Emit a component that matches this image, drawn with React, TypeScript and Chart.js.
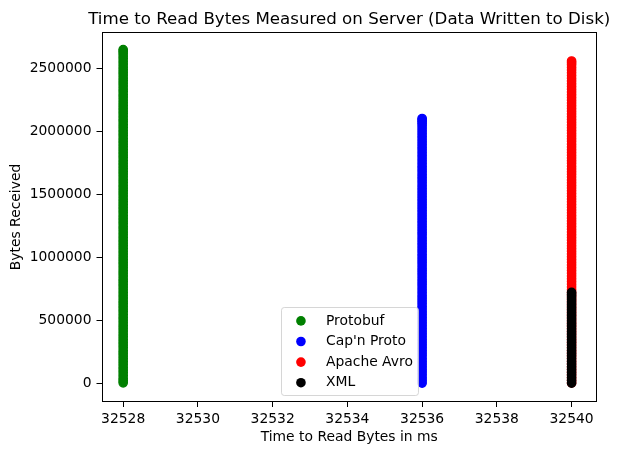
import { useEffect, useRef } from "react";
import { Chart, registerables } from "chart.js";

Chart.register(...registerables);

const chartTitle = "Time to Read Bytes Measured on Server (Data Written to Disk)";
const xAxisTitle = "Time to Read Bytes in ms";
const yAxisTitle = "Bytes Received";

const seriesNames = ["Protobuf", "Cap'n Proto", "Apache Avro", "XML"];
const seriesColors = ["#008000", "#0000ff", "#ff0000", "#000000"];
const readTimesMs = [32528, 32536, 32540, 32540];

const protobufBytes = [
  3100, 19800, 38700, 61200, 84200, 105600, 127900, 151300, 173400, 194900, 216800, 238300,
  259100, 282700, 304600, 326100, 348200, 370400, 391700, 414800, 437900, 458200, 480300, 502600,
  523800, 546900, 569400, 590300, 612700, 633800, 654100, 676900, 698800, 720700, 742600, 765300,
  787100, 808400, 829500, 851600, 873900, 895200, 917400, 940100, 962800, 983600, 1004700,
  1026900, 1048300, 1071400, 1093900, 1114700, 1136200, 1158100, 1179800, 1202600, 1225400,
  1246300, 1268900, 1289800, 1311300, 1334200, 1356700, 1377600, 1399200, 1421300, 1442800,
  1465400, 1487600, 1509700, 1530900, 1552200, 1573400, 1596300, 1618100, 1640800, 1662500,
  1683400, 1704900, 1727600, 1749300, 1771200, 1793800, 1814600, 1836100, 1857900, 1879700,
  1902200, 1924300, 1946100, 1968800, 1989300, 2010600, 2033700, 2055400, 2077800, 2098900,
  2121400, 2143200, 2164600, 2186700, 2207900, 2229100, 2251800, 2274600, 2296200, 2318300,
  2339700, 2361900, 2383800, 2405200, 2427300, 2449800, 2471600, 2492400, 2514200, 2537100,
  2558900, 2580600, 2601200, 2622300, 2638700, 2652400,
];
const capnProtoBytes = [
  1800, 23100, 44600, 66800, 88900, 110200, 131700, 153900, 175200, 197600, 219800, 241300,
  262300, 284700, 306900, 328100, 349400, 371800, 393800, 415200, 437100, 458700, 480600, 503100,
  525300, 546400, 567800, 589900, 611400, 633700, 655900, 677200, 698300, 720600, 742700, 764300,
  786100, 807800, 829600, 851900, 874200, 895300, 916800, 939100, 961300, 982400, 1003900,
  1026300, 1048400, 1069900, 1091800, 1113600, 1135300, 1157400, 1179700, 1200900, 1222400,
  1244800, 1266800, 1288300, 1310100, 1331900, 1353600, 1375800, 1397900, 1419200, 1440700,
  1462600, 1484200, 1506300, 1528600, 1549800, 1571300, 1593700, 1615800, 1637200, 1658400,
  1680800, 1702900, 1724300, 1746100, 1767800, 1789700, 1811600, 1833400, 1855200, 1876800,
  1898700, 1920300, 1942200, 1963900, 1985100, 2006700, 2028300, 2049200, 2066800, 2081500,
  2094300, 2104600,
];
const apacheAvroBytes = [
  2600, 23900, 45300, 67400, 89800, 111300, 132600, 154700, 176400, 198600, 220700, 241800,
  263100, 285600, 307800, 328900, 350200, 372700, 394900, 416100, 437600, 459300, 481400, 503800,
  525900, 547200, 568300, 590700, 612800, 634200, 656100, 677800, 699700, 721900, 743900, 765200,
  786800, 808700, 830400, 852600, 874700, 896300, 918100, 939700, 961600, 983500, 1005200,
  1027400, 1049600, 1070800, 1092300, 1114700, 1136800, 1158500, 1180400, 1202100, 1223700,
  1245900, 1267900, 1289400, 1311200, 1332900, 1354800, 1376400, 1398300, 1420300, 1442100,
  1463700, 1485600, 1507400, 1529400, 1551200, 1572800, 1594400, 1616300, 1638600, 1660700,
  1682100, 1703400, 1725800, 1747900, 1769400, 1791200, 1812800, 1834600, 1856500, 1878300,
  1900700, 1922800, 1944100, 1965400, 1987600, 2009700, 2031300, 2053100, 2074900, 2096800,
  2118400, 2140200, 2161800, 2183600, 2205900, 2227900, 2249500, 2271300, 2293100, 2314800,
  2336600, 2358600, 2380200, 2402100, 2423800, 2445700, 2467400, 2489300, 2510600, 2531800,
  2548200, 2561400,
];
const xmlBytes = [
  1200, 22300, 43800, 65100, 86400, 108200, 129700, 150800, 172100, 194200, 215900, 237100,
  258600, 279800, 301300, 323100, 344800, 365900, 387200, 408800, 430600, 452400, 473900, 495100,
  516400, 538200, 559800, 581300, 602300, 624100, 645700, 666800, 688100, 705900, 721600,
];

const xTicks = [32528, 32530, 32532, 32534, 32536, 32538, 32540];
const yTicks = [0, 500000, 1000000, 1500000, 2000000, 2500000];
const xRange = [32527.42, 32540.68];
const yRange = [-149000, 2792000];

const FONT = '"DejaVu Sans", sans-serif';
const TICK_PX = 13.89;
const TITLE_PX = 16.67;

const mplPlugin = {
  id: "mplDecor",
  afterDatasetsDraw(chart: any) {
    const { ctx, chartArea } = chart;
    const fs = TICK_PX;
    ctx.save();
    ctx.font = `${fs}px ${FONT}`;
    const labels = chart.data.datasets.map((d: any) => d.label);
    const maxW = Math.max(...labels.map((l: string) => ctx.measureText(l).width));
    const pad = 0.4 * fs;
    const handleLen = 2 * fs;
    const textPad = 0.8 * fs;
    const pitch = 20.6;
    const boxW = pad + handleLen + textPad + maxW + pad;
    const boxH = 88;
    const cx = (chartArea.left + chartArea.right) / 2;
    const bx = Math.round(cx - boxW / 2) + 0.5;
    const by = Math.round(chartArea.bottom - 0.5 * fs - boxH) + 0.5;
    const r = 0.2 * fs;
    ctx.beginPath();
    ctx.moveTo(bx + r, by);
    ctx.lineTo(bx + boxW - r, by);
    ctx.quadraticCurveTo(bx + boxW, by, bx + boxW, by + r);
    ctx.lineTo(bx + boxW, by + boxH - r);
    ctx.quadraticCurveTo(bx + boxW, by + boxH, bx + boxW - r, by + boxH);
    ctx.lineTo(bx + r, by + boxH);
    ctx.quadraticCurveTo(bx, by + boxH, bx, by + boxH - r);
    ctx.lineTo(bx, by + r);
    ctx.quadraticCurveTo(bx, by, bx + r, by);
    ctx.closePath();
    ctx.fillStyle = "rgba(255,255,255,0.8)";
    ctx.fill();
    ctx.strokeStyle = "rgba(204,204,204,0.8)";
    ctx.lineWidth = 1;
    ctx.stroke();
    chart.data.datasets.forEach((d: any, i: number) => {
      const rowY = by + 13.4 + i * pitch;
      ctx.beginPath();
      ctx.arc(bx + pad + handleLen / 2, rowY, 4.8, 0, Math.PI * 2);
      ctx.fillStyle = d.backgroundColor;
      ctx.fill();
      ctx.fillStyle = "#000";
      ctx.textAlign = "left";
      ctx.textBaseline = "middle";
      ctx.fillText(d.label, bx + pad + handleLen + textPad, rowY);
    });
    ctx.restore();
  },
  afterDraw(chart: any) {
    const { ctx, chartArea } = chart;
    ctx.save();
    const l = Math.round(chartArea.left) + 0.5;
    const t = Math.round(chartArea.top) + 0.5;
    const rr = Math.round(chartArea.right) - 0.5;
    const b = Math.round(chartArea.bottom) - 0.5;
    ctx.strokeStyle = "#000";
    ctx.lineWidth = 1;
    ctx.strokeRect(l, t, rr - l, b - t);
    ctx.font = `${TITLE_PX}px ${FONT}`;
    ctx.fillStyle = "#000";
    ctx.textAlign = "center";
    ctx.textBaseline = "alphabetic";
    ctx.fillText(chartTitle, (chartArea.left + chartArea.right) / 2, chartArea.top - 8.3);
    ctx.restore();
  },
};

export default function App() {
  const canvasRef = useRef<HTMLCanvasElement | null>(null);

  useEffect(() => {
    document.body.style.margin = "0";
    const canvas = canvasRef.current;
    if (!canvas) return;
    const seriesBytes = [protobufBytes, capnProtoBytes, apacheAvroBytes, xmlBytes];
    const datasets = seriesNames.map((name, i) => ({
      label: name,
      data: seriesBytes[i].map((y) => ({ x: readTimesMs[i], y })),
      backgroundColor: seriesColors[i],
      borderColor: seriesColors[i],
      pointRadius: 4.2,
      pointBorderWidth: 1.3,
      pointHoverRadius: 4.2,
      order: seriesNames.length - i,
    }));
    const chart = new Chart(canvas, {
      type: "scatter",
      data: { datasets },
      plugins: [mplPlugin],
      options: {
        animation: false,
        responsive: false,
        devicePixelRatio: 1,
        events: [],
        layout: { padding: { top: 32, right: 23, left: 0, bottom: 0 } },
        plugins: {
          legend: { display: false },
          title: { display: false },
          tooltip: { enabled: false },
        },
        scales: {
          x: {
            type: "linear",
            min: xRange[0],
            max: xRange[1],
            afterBuildTicks: (scale: any) => {
              scale.ticks = xTicks.map((v) => ({ value: v }));
            },
            afterFit: (scale: any) => {
              scale.height = 53;
            },
            grid: {
              drawOnChartArea: false,
              drawTicks: true,
              tickLength: 5,
              tickColor: "#000",
              tickWidth: 1,
            },
            border: { display: false },
            ticks: {
              color: "#000",
              font: { family: FONT, size: TICK_PX },
              padding: 4,
              maxRotation: 0,
              autoSkip: false,
              callback: (v: any) => String(v),
            },
            title: {
              display: true,
              text: xAxisTitle,
              color: "#000",
              font: { family: FONT, size: TICK_PX },
              padding: { top: 0, bottom: 9.5 },
            },
          },
          y: {
            type: "linear",
            min: yRange[0],
            max: yRange[1],
            afterBuildTicks: (scale: any) => {
              scale.ticks = yTicks.map((v) => ({ value: v }));
            },
            afterFit: (scale: any) => {
              scale.width = 101.5;
            },
            grid: {
              drawOnChartArea: false,
              drawTicks: true,
              tickLength: 5,
              tickColor: "#000",
              tickWidth: 1,
            },
            border: { display: false },
            ticks: {
              color: "#000",
              font: { family: FONT, size: TICK_PX },
              padding: 5,
              autoSkip: false,
              callback: (v: any) => String(v),
            },
            title: {
              display: true,
              text: yAxisTitle,
              color: "#000",
              font: { family: FONT, size: TICK_PX },
              padding: { top: 8.5, bottom: 0 },
            },
          },
        },
      },
    } as any);
    return () => chart.destroy();
  }, []);

  return (
    <div style={{ width: 620, height: 455 }}>
      <canvas ref={canvasRef} width={620} height={455} style={{ display: "block" }} />
    </div>
  );
}
